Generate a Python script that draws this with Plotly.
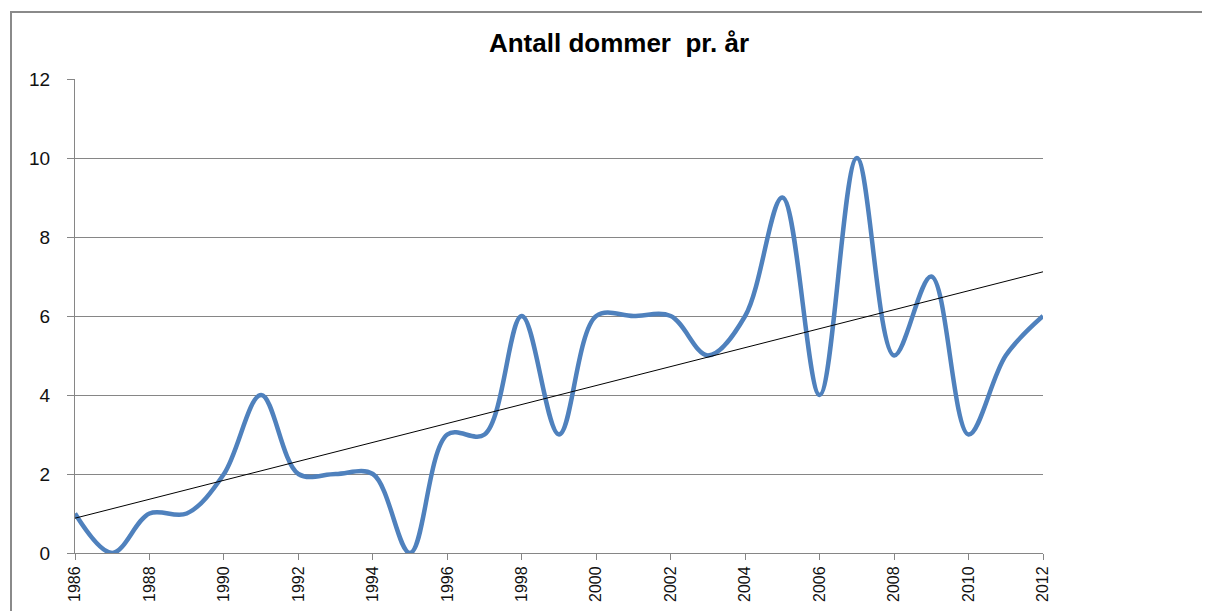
import numpy as np
import plotly.graph_objects as go

years = list(range(1986, 2013))
dommer = [1, 0, 1, 1, 2, 4, 2, 2, 2, 0, 3, 3, 6, 3, 6, 6, 6, 5, 6, 9, 4, 10, 5, 7, 3, 5, 6]
x_ticks = list(range(1986, 2013, 2))
y_ticks = [0, 2, 4, 6, 8, 10, 12]

slope, intercept = np.polyfit(years, dommer, 1)
trend = [slope * y + intercept for y in years]

# page is offset by 8px body margin
OFF = 8
W, H = 1210 - OFF, 611 - OFF
L, R, T, B = 75 - OFF, 1043 - OFF, 79 - OFF, 553 - OFF

fig = go.Figure()
fig.add_trace(go.Scatter(x=years, y=dommer, mode="lines",
                         line=dict(color="#4F81BD", width=4.5, shape="spline", smoothing=1.0),
                         showlegend=False))
fig.add_trace(go.Scatter(x=[years[0], years[-1]], y=[trend[0], trend[-1]], mode="lines",
                         line=dict(color="#000000", width=1), showlegend=False))

pw, ph = R - L, B - T
fig.add_shape(type="rect", xref="paper", yref="paper",
              x0=(11 - OFF - L) / pw, x1=(W + 20 - L) / pw,
              y0=(B - (H + 20)) / ph, y1=(B - (12 - OFF)) / ph,
              line=dict(color="#8a8a8a", width=2), layer="below")

fig.update_layout(
    width=W, height=H,
    margin=dict(l=L, r=W - R, t=T, b=H - B, autoexpand=False),
    paper_bgcolor="white", plot_bgcolor="white",
    title=dict(text="<b>Antall dommer  pr. år</b>", x=(619 - OFF) / W, xanchor="center",
               y=1 - (43 - OFF) / H, yanchor="middle",
               font=dict(family="Liberation Sans, Arial", size=26, color="#000")),
    font=dict(family="Liberation Sans, Arial", size=16, color="#222"),
)
fig.update_xaxes(range=[1986, 2012], tickvals=x_ticks, ticktext=[str(t) for t in x_ticks],
                 tickangle=-90, showgrid=False, showline=True, linecolor="#868686", linewidth=1,
                 ticks="outside", ticklen=6, tickcolor="#868686", zeroline=False,
                 tickfont=dict(size=16, color="#111"))
fig.update_yaxes(range=[0, 12], tickvals=y_ticks, showgrid=True, gridcolor="#868686", gridwidth=1,
                 showline=True, linecolor="#868686", linewidth=1, ticks="outside", ticklen=7,
                 tickcolor="#868686", zeroline=False, ticklabelstandoff=13,
                 tickfont=dict(size=19, color="#111"))

fig.write_html("out.html")
